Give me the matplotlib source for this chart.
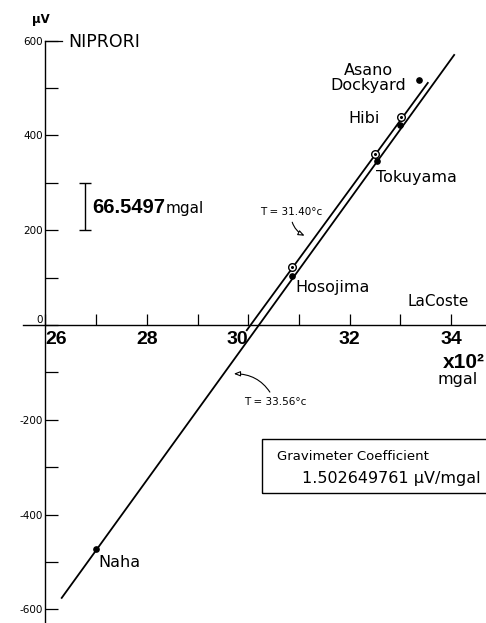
import matplotlib
matplotlib.use("Agg")
import matplotlib.pyplot as plt
from matplotlib.patches import Rectangle

# x in 10^2 mgal (LaCoste), y in microvolts (NIPRORI)
line_3356_x = [26.32, 34.06]
line_3356_y = [-576, 570]
line_3140_x = [29.97, 33.54]
line_3140_y = [-11, 511]

# stations, solid dots
solid_names = ["Naha", "Hosojima", "Tokuyama", "Hibi", "Asano\nDockyard"]
solid_x = [27.00, 30.86, 32.54, 32.99, 33.37]
solid_y = [-473, 103, 346, 422, 517]

# open circles
open_x = [30.86, 32.50, 33.01]
open_y = [122, 361, 439]

x_major = [26, 28, 30, 32, 34]
x_minor = [27, 29, 31, 33]
y_major = [-600, -400, -200, 0, 200, 400, 600]
y_major_labels = ["-600", "-400", "-200", "0", "200", "400", "600"]
y_minor = [-500, -300, -100, 100, 300, 500]

scale_bar = [200, 300]  # 100 uV = 66.5497 mgal

fig = plt.figure(figsize=(4.86, 6.23), dpi=100)
ax = fig.add_axes([0, 0, 1, 1])
ax.set_xlim(25.103, 34.688)
ax.set_ylim(-629, 686)

# axes through the origin of the chart
for s in ["top", "right"]:
    ax.spines[s].set_visible(False)
ax.spines["left"].set_position(("data", 26))
ax.spines["bottom"].set_position(("data", 0))
ax.spines["left"].set_bounds(-640, 600)
ax.spines["bottom"].set_bounds(25.55, 34.7)
ax.spines["left"].set_linewidth(1.0)
ax.spines["bottom"].set_linewidth(1.0)

ax.set_xticks(x_major)
ax.set_xticklabels([str(v) for v in x_major], fontsize=14, fontweight="bold",
                   family="Liberation Sans")
ax.set_xticks(x_minor, minor=True)
ax.tick_params(axis="x", which="both", direction="in", length=8, width=0.9, pad=4)
xl = ax.get_xticklabels()
xl[0].set_ha("left")
xl[2].set_ha("right")

ax.set_yticks(y_major)
ax.set_yticklabels(y_major_labels, fontsize=7.5)
ax.set_yticks(y_minor, minor=True)
ax.tick_params(axis="y", which="both", direction="in", length=9.5, width=0.9, pad=2)
ax.get_yticklabels()[3].set_va("bottom")

# calibration lines
ax.plot(line_3356_x, line_3356_y, color="black", lw=1.3)
ax.plot(line_3140_x, line_3140_y, color="black", lw=1.3)

ax.plot(solid_x, solid_y, "o", color="black", ms=3.8, zorder=4)
ax.plot(open_x, open_y, "o", mfc="white", mec="black", ms=5.5, mew=1.0, zorder=5)
ax.plot(open_x, open_y, "o", color="black", ms=1.2, zorder=6)

offsets = [(1.4, -9.4), (2.2, -7.9), (-0.7, -11.5), (-14.4, 5), (-36.7, 1.4)]
aligns = ["left", "left", "left", "right", "center"]
for name, x, y, off, ha in zip(solid_names, solid_x, solid_y, offsets, aligns):
    ax.annotate(name, (x, y), xytext=off, textcoords="offset points",
                ha=ha, va="center", fontsize=11.5, linespacing=1.0,
                multialignment="center")

# units and instrument names
ax.text(25.91, 644, "\u00b5V", ha="center", va="center", fontsize=8.5, fontweight="bold")
ax.text(26.44, 598, "NIPRORI", ha="left", va="center", fontsize=12.5)
ax.plot([26, 26.33], [600, 600], color="black", lw=0.9)
ax.text(33.13, 48.6, "LaCoste", ha="left", va="center", fontsize=11)
ax.text(33.84, -80, "x10\u00b2", ha="left", va="center", fontsize=15,
        fontweight="bold", family="Liberation Sans")
ax.text(33.74, -116, "mgal", ha="left", va="center", fontsize=11.5)

# scale bar
ax.vlines(26.78, scale_bar[0], scale_bar[1], color="black", lw=1.0)
ax.hlines(scale_bar, 26.66, 26.90, color="black", lw=1.0)
ax.text(26.92, 236, "66.5497", ha="left", va="baseline", fontsize=14.5,
        fontweight="bold", family="Liberation Sans")
ax.text(28.36, 236, "mgal", ha="left", va="baseline", fontsize=11)

# temperature annotations
arrow = dict(arrowstyle="-|>,head_length=0.5,head_width=0.2", color="black",
             lw=0.8, connectionstyle="arc3,rad=0.35", fc="white")
ax.annotate("T = 31.40\u00b0c", xy=(31.16, 186), xytext=(30.84, 239),
            ha="center", va="center", fontsize=7.5, arrowprops=arrow)
ax.annotate("T = 33.56\u00b0c", xy=(29.66, -103), xytext=(30.53, -163),
            ha="center", va="center", fontsize=7.5, arrowprops=arrow)

# coefficient box
ax.add_patch(Rectangle((30.27, -355), 4.8, 114, fill=False, ec="black", lw=1.0))
ax.text(30.57, -277, "Gravimeter Coefficient", ha="left", va="center", fontsize=9.5)
ax.text(31.06, -325, "1.502649761 \u00b5V/mgal", ha="left", va="center", fontsize=11.5)

fig.savefig("out.png", dpi=100)
